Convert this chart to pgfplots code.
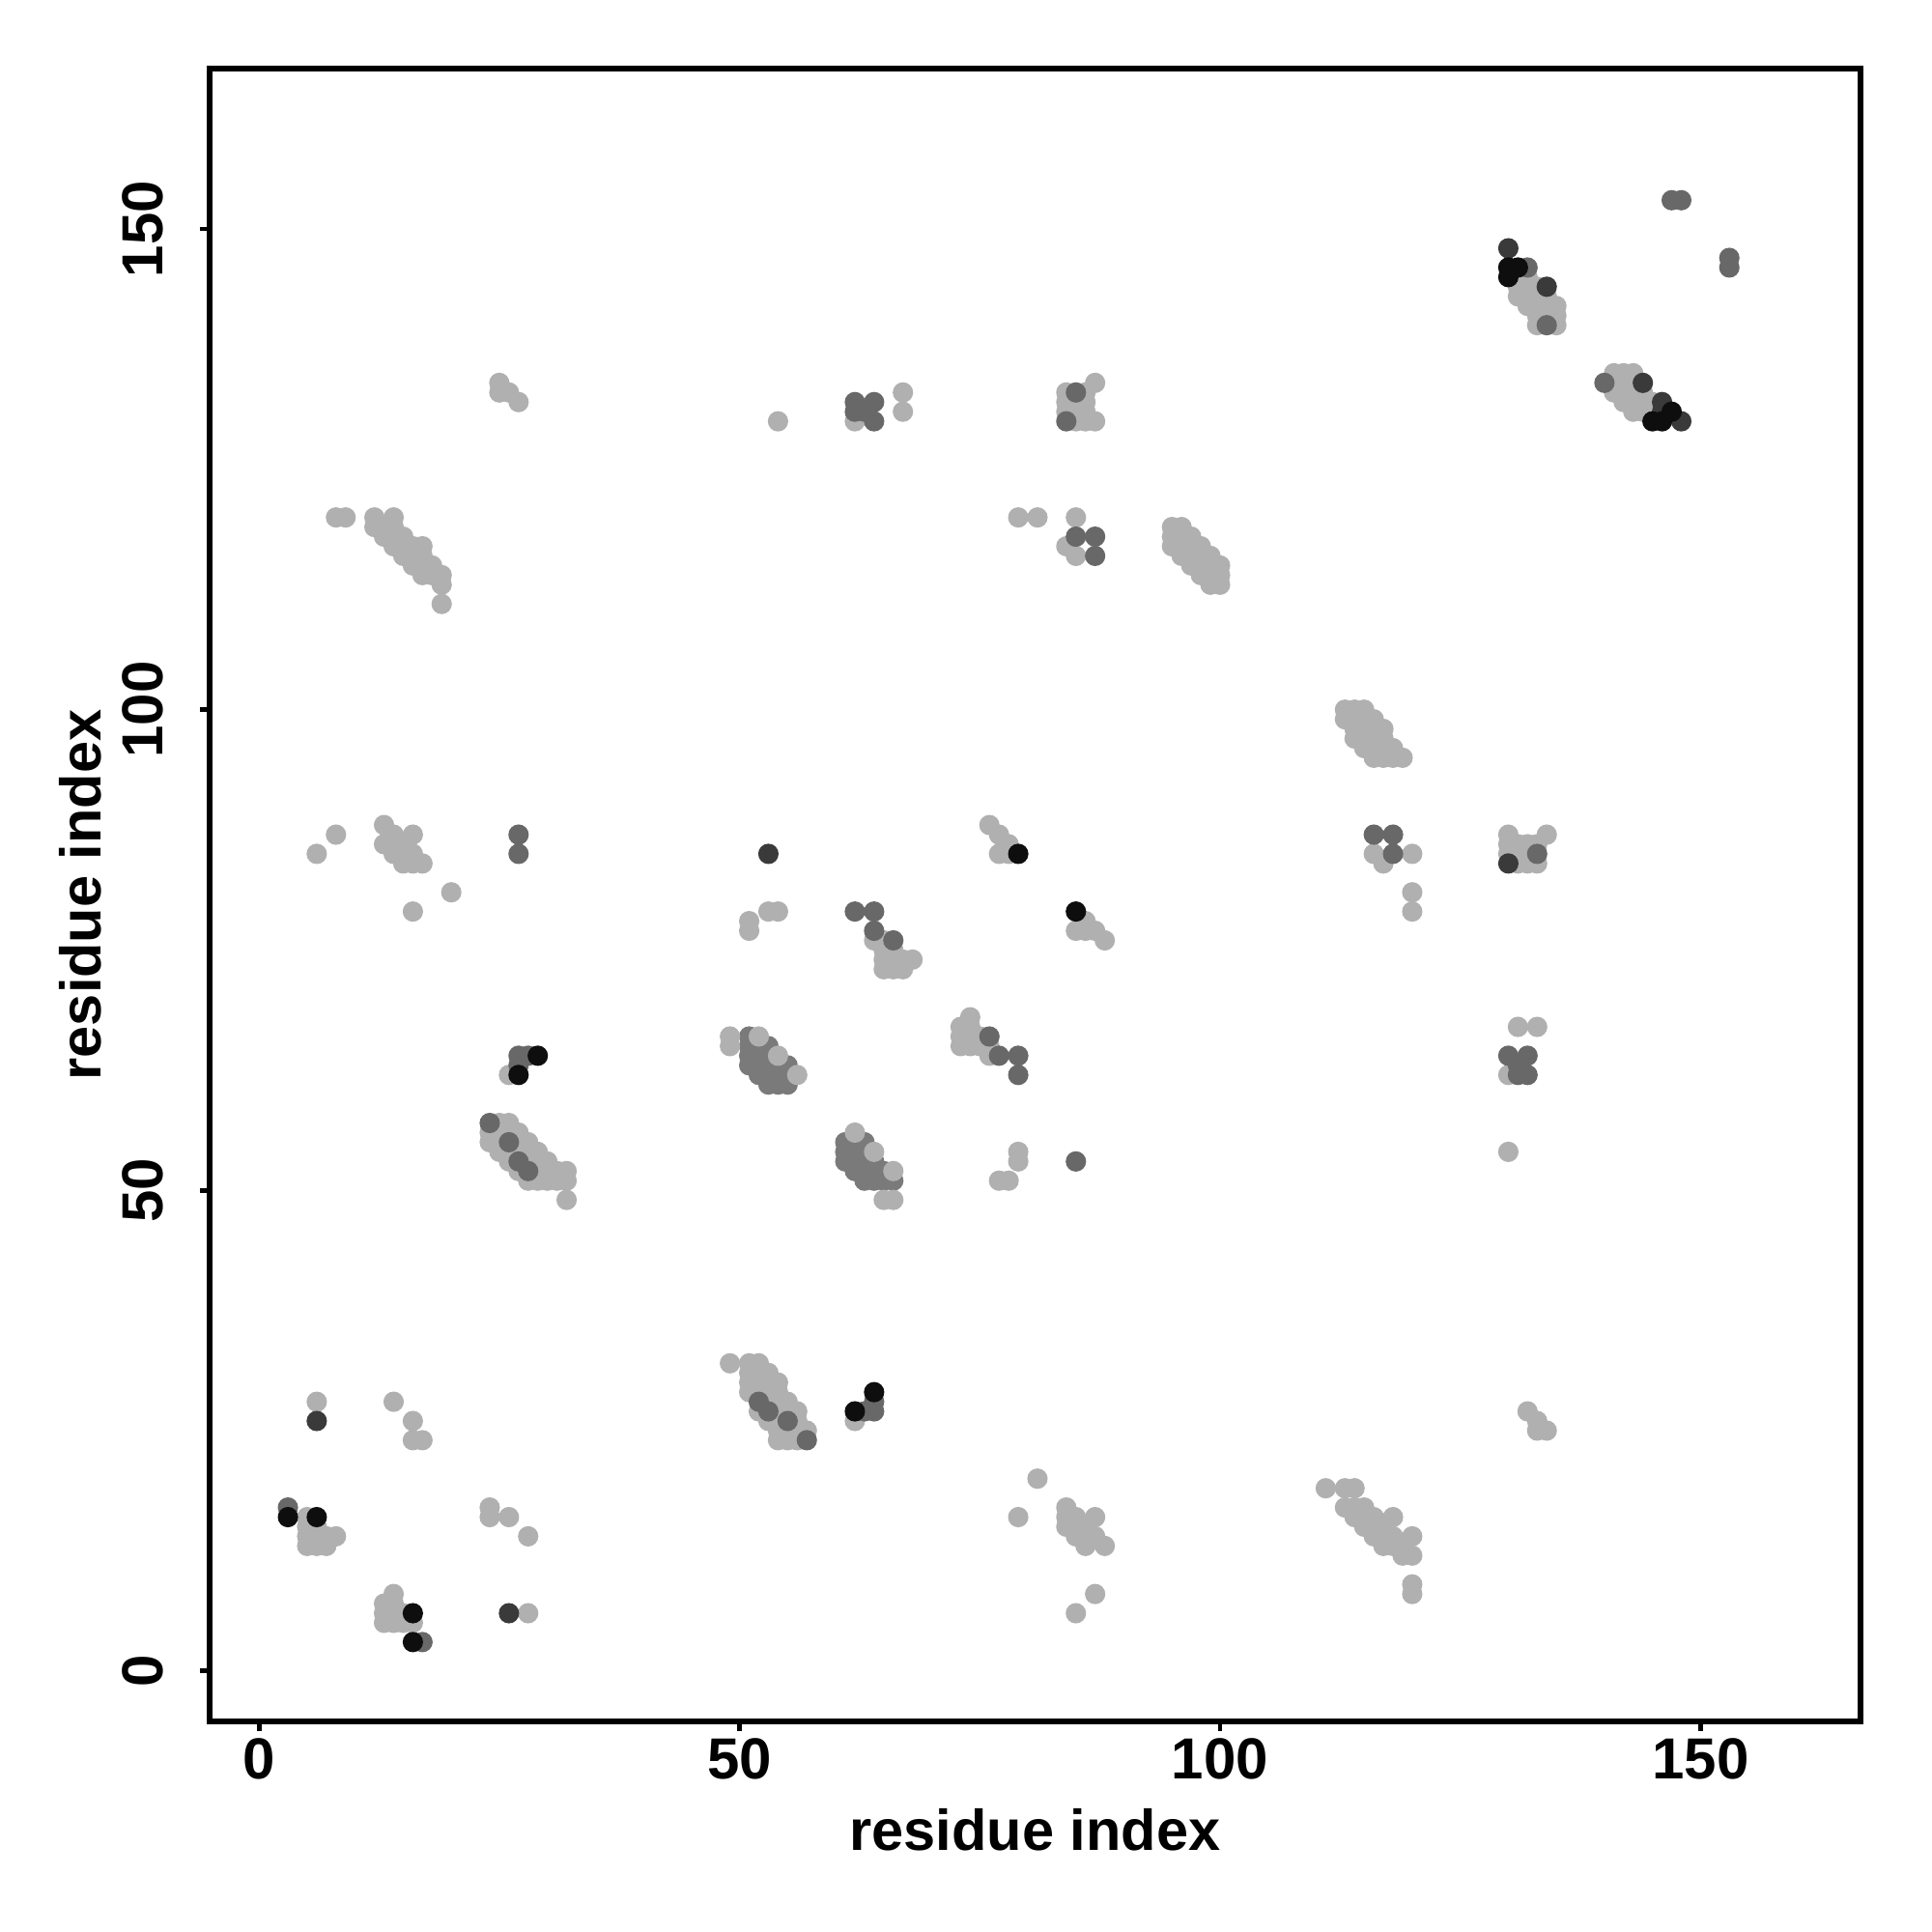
\documentclass[border=0pt]{standalone}
\usepackage{fontspec}
\setmainfont{Liberation Sans}
\usepackage{pgfplots}
\pgfplotsset{compat=1.18}
\definecolor{cl}{RGB}{176,176,176}
\definecolor{cml}{RGB}{122,122,122}
\definecolor{cm}{RGB}{104,104,104}
\definecolor{cd}{RGB}{58,58,58}
\definecolor{cb}{RGB}{14,14,14}
\begin{document}
\begin{tikzpicture}
\begin{axis}[name=ax,
  scale only axis, width=12.8175cm, height=12.8325cm,
  xmin=-5.15, xmax=166.65, ymin=-5.25, ymax=166.7,
  axis line style={line width=1.2pt},
  every tick/.style={line width=1.0pt, black},
  tick align=outside, major tick length=0.075cm,
  xtick pos=left, ytick pos=left,
  xtick={0,50,100,150}, ytick={0,50,100,150},
  /pgf/number format/assume math mode=true,
  ticklabel style={font=\fontsize{12.8}{15}\selectfont\bfseries},
  xticklabel style={anchor=north, inner sep=0pt},
  xticklabel shift=0.05cm,
  yticklabel style={rotate=90, anchor=south, inner sep=0pt},
  yticklabel shift=0.275cm,
  xlabel={residue index}, ylabel={residue index},
  label style={font=\fontsize{12.7}{15}\selectfont\bfseries, inner sep=0pt},
  xlabel style={at={(axis description cs:0.5,0)}, anchor=north, yshift=-0.67cm},
  ylabel style={at={(axis description cs:0,0.5)}, anchor=center, yshift=1.0cm},
  clip=false,
  every axis plot/.append style={only marks, mark=*, mark size=2.05pt},
]
% medium-light blocks
\addplot[color=cml] coordinates {
(51,66)(51,65)(52,65)(53,65)(51,64)(52,64)(53,64)(51,63)(52,63)(53,63)(54,63)(55,63)(52,62)(53,62)(54,62)(55,62)(53,61)(54,61)(55,61)
(61,55)(62,55)(63,55)(61,54)(62,54)(63,54)(61,53)(62,53)(63,53)(64,53)(62,52)(63,52)(64,52)(65,52)(63,51)(64,51)(65,51)(66,51)
};
% light
\addplot[color=cl] coordinates {
(5,13)(5,14)(5,15)(5,16)(6,13)(6,14)(6,15)(7,13)(7,14)(8,14)
(6,28)(14,28)(16,26)(16,24)(17,24)
(24,17)(24,16)(26,16)(28,14)
(14,8)(13,5)(13,6)(13,7)(14,5)(14,6)(14,7)(15,5)(15,6)(16,5)(28,6)
(49,32)(51,32)(52,32)(51,31)(52,31)(53,31)(51,30)(52,30)(53,30)(54,30)(51,29)(52,29)(53,29)(54,29)(53,28)(54,28)(55,28)(52,27)(54,27)(55,27)(56,27)(53,26)(54,26)(56,26)(54,25)(55,25)(56,25)(57,25)(54,24)(55,24)(56,24)
(62,26)
(81,20)(79,16)(84,17)(84,16)(85,16)(87,16)(84,15)(85,15)(86,15)(85,14)(86,14)(87,14)(86,13)(88,13)(87,8)(85,6)
(111,19)(113,19)(114,19)(113,17)(114,17)(115,17)(114,16)(115,16)(116,16)(118,16)(115,15)(116,15)(117,15)(116,14)(117,14)(118,14)(120,14)(117,13)(118,13)(119,13)(119,12)(120,12)(120,9)(120,8)
(132,27)(133,26)(133,25)(134,25)
(26,62)(25,57)(26,57)(24,56)(25,56)(26,56)(27,56)(24,55)(25,55)(27,55)(28,55)(25,54)(26,54)(27,54)(28,54)(29,54)(26,53)(28,53)(29,53)(30,53)(27,52)(29,52)(30,52)(31,52)(32,52)(28,51)(29,51)(30,51)(31,51)(32,51)(32,49)
(49,66)(49,65)(52,66)(54,64)(56,62)
(62,56)(64,54)(66,52)(65,49)(66,49)
(74,68)(73,67)(74,67)(73,66)(74,66)(75,66)(73,65)(74,65)(75,65)(76,65)(76,64)
(79,54)(79,53)(77,51)(78,51)
(131,67)(133,67)(130,62)(130,54)
(6,85)(8,87)(13,88)(13,86)(14,87)(14,86)(14,85)(15,86)(15,85)(15,84)(16,87)(16,85)(16,84)(17,84)(20,81)(16,79)
(51,78)(51,77)(53,79)(54,79)
(64,76)(65,76)(65,75)(66,75)(65,74)(66,74)(67,74)(68,74)(65,73)(66,73)(67,73)
(86,78)(85,77)(86,77)(87,77)(88,76)
(76,88)(77,87)(78,86)(77,85)(78,85)
(113,100)(114,100)(115,100)(113,99)(114,99)(115,99)(116,99)(114,98)(115,98)(116,98)(117,98)(114,97)(115,97)(116,97)(117,97)(115,96)(116,96)(117,96)(118,96)(116,95)(117,95)(118,95)(119,95)
(116,85)(120,85)(117,84)(120,81)(120,79)
(130,87)(130,86)(131,86)(132,86)(133,86)(134,87)(130,85)(131,85)(132,85)(131,84)(132,84)(133,84)
(8,120)(9,120)(12,120)(14,120)(12,119)(13,119)(14,119)(13,118)(15,118)(14,117)(15,117)(16,117)(17,117)(15,116)(16,116)(17,116)(16,115)(17,115)(18,115)(17,114)(18,114)(19,114)(19,113)(19,111)
(25,134)(25,133)(26,133)(27,132)
(54,130)(62,130)(67,133)(67,131)
(87,134)(84,133)(86,133)(84,132)(85,132)(86,132)(84,131)(85,131)(86,131)(85,130)(86,130)(87,130)
(79,120)(81,120)(85,120)(84,117)(85,116)
(95,119)(96,119)(95,118)(96,118)(97,118)(95,117)(96,117)(97,117)(98,117)(96,116)(97,116)(98,116)(99,116)(97,115)(98,115)(99,115)(100,115)(98,114)(99,114)(100,114)(99,113)(100,113)
(131,145)(132,145)(131,144)(132,144)(133,144)(131,143)(132,143)(133,143)(134,143)(132,142)(133,142)(134,142)(135,142)(133,141)(134,141)(135,141)(133,140)(135,140)
(141,135)(142,135)(143,135)(141,134)(142,134)(143,134)(141,133)(142,133)(143,133)(144,133)(142,132)(143,132)(144,132)(145,132)(143,131)(144,131)(145,131)
};
% medium
\addplot[color=cm] coordinates {
(3,17)(17,3)(52,28)(53,27)(55,26)(57,24)(63,27)(64,27)(64,28)
(27,64)(27,63)(28,64)(24,57)(26,55)(27,53)(28,52)
(76,66)(77,64)(79,64)(79,62)(85,53)
(130,64)(132,64)(131,63)(131,62)(132,62)
(27,87)(27,85)(62,79)(64,79)(64,77)(66,76)
(116,87)(118,87)(118,85)(133,85)
(62,132)(64,132)(62,131)(63,131)(64,130)(84,130)(85,133)(85,118)(87,118)(87,116)
(140,134)(147,153)(148,153)(153,147)(153,146)(134,140)(132,146)
};
% dark
\addplot[color=cd] coordinates {
(6,26)(26,6)(130,148)(134,144)(144,134)(146,132)(146,131)(148,130)(130,84)(53,85)
};
% black
\addplot[color=cb] coordinates {
(3,16)(6,16)(16,6)(16,3)(62,27)(64,29)(29,64)(27,62)(85,79)(79,85)(130,146)(130,145)(131,146)(145,130)(146,130)(147,131)
};
\end{axis}
\pgfresetboundingbox
\path (ax.south west) ++(-1.6275cm,-1.635cm) rectangle ([shift={(0.555cm,0.5325cm)}]ax.north east);
\end{tikzpicture}
\end{document}
